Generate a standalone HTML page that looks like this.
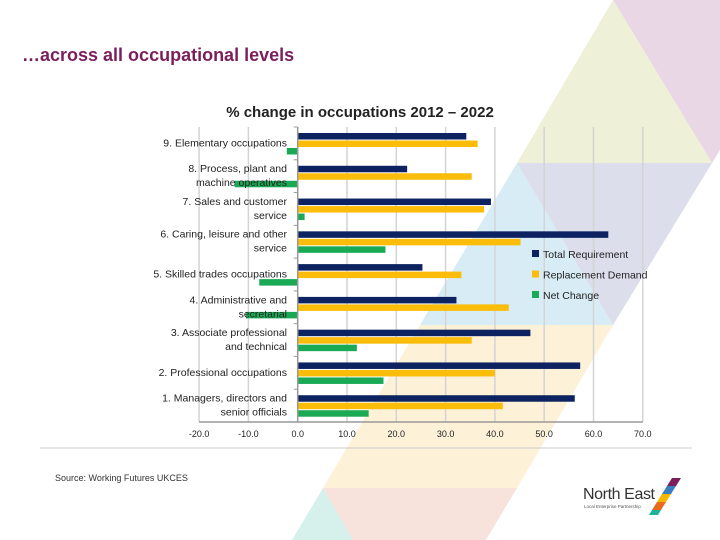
<!DOCTYPE html>
<html><head><meta charset="utf-8"><style>
body{margin:0;width:720px;height:540px;overflow:hidden;background:#fff;font-family:"Liberation Sans",sans-serif;}
svg{display:block}
</style></head><body>
<svg width="720" height="540">
<g>
<polygon points="613,0 720,0 720,150 712,163" fill="#ead7e6"/>
<polygon points="613,0 517,163 712,163" fill="#eef0d8"/>
<polygon points="517,163 712,163 613,325" fill="#dcdeeb"/>
<polygon points="517,163 420,325 613,325" fill="#d8ecf5"/>
<polygon points="420,325 613,325 517,488 323,488" fill="#fdf1d8"/>
<polygon points="323,488 517,488 486,540 353,540" fill="#f8e3dc"/>
<polygon points="323,488 353,540 292,540" fill="#d6f0ec"/>
</g>
<text x="22" y="61" font-size="18" font-weight="bold" fill="#7a1f5c">…across all occupational levels</text>
<text x="360" y="117" font-size="15" font-weight="bold" fill="#222" text-anchor="middle">% change in occupations 2012 – 2022</text>
<g id="chart"></g>
<line x1="40" y1="448" x2="692" y2="448" stroke="#ccc"/>
<text x="55" y="481" font-size="9" fill="#333">Source: Working Futures UKCES</text>
<g>
<text x="583" y="499" font-size="16" fill="#333" textLength="72">North East</text>
<text x="584" y="508" font-size="4.5" fill="#555">Local Enterprise Partnership</text>
<polygon points="672,478 681,478 676,486 667,486" fill="#7a1f5c"/>
<polygon points="667,486 676,486 671,494 662,494" fill="#3a7ec0"/>
<polygon points="662,494 671,494 666,502 657,502" fill="#f5b800"/>
<polygon points="657,502 666,502 661,510 652,510" fill="#e86a1e"/>
<polygon points="652,510 661,510 658,515 649,515" fill="#1fb39a"/>
</g>
</svg>
<script>
const categories=["9. Elementary occupations","8. Process, plant and|machine operatives","7. Sales and customer|service","6. Caring, leisure and other|service","5. Skilled trades occupations","4. Administrative and|secretarial","3. Associate professional|and technical","2. Professional occupations","1. Managers, directors and|senior officials"];
const totalReq=[34.2,22.2,39.2,63.0,25.3,32.2,47.2,57.3,56.2];
const replDemand=[36.5,35.3,37.8,45.2,33.2,42.8,35.3,40.0,41.6];
const netChange=[-2.2,-12.8,1.4,17.8,-7.8,-10.5,12.0,17.4,14.4];
const xTicks=[-20,-10,0,10,20,30,40,50,60,70];
const seriesNames=["Total Requirement","Replacement Demand","Net Change"];
const colors=["#0d2260","#fbbc0a","#1aaa55"];
const NS="http://www.w3.org/2000/svg";
const g=document.getElementById('chart');
const X=v=>297.7+v*4.93;
const top0=127,bottom0=422,band=(bottom0-top0)/categories.length;
function mk(t,a,p){const e=document.createElementNS(NS,t);for(const k in a)e.setAttribute(k,a[k]);(p||g).appendChild(e);return e;}
xTicks.forEach(t=>{
 if(t!==0){const l=mk('line',{x1:X(t),x2:X(t),y1:top0,y2:bottom0,stroke:'#d4d4d4','stroke-width':1.5});
 
 }
 const tx=mk('text',{x:X(t),y:437,'font-size':9,fill:'#222','text-anchor':'middle'});
 tx.textContent=t.toFixed(1);
 
 
});
const ax=mk('line',{x1:X(-20),x2:X(70),y1:bottom0,y2:bottom0,stroke:'#999','stroke-width':1.5});


const series=[totalReq,replDemand,netChange];
const offs=[6,13.5,21];
categories.forEach((c,i)=>{
 const y0=top0+i*band;
 series.forEach((s,k)=>{
  const v=s[i];
  const r=mk('rect',{x:Math.min(X(0),X(v)),y:y0+offs[k],width:Math.abs(X(v)-X(0)),height:6.5,fill:colors[k]});
  
  
 });
 const lines=c.split('|');
 const cy=y0+band/2;
 lines.forEach((ln,j)=>{
  const t=mk('text',{x:287,y:(lines.length===1?cy-1:cy-8+j*14)+4,'font-size':10.5,fill:'#222','text-anchor':'end'});
  t.textContent=ln;
  
  
 });
});
const yax=mk('line',{x1:X(0),x2:X(0),y1:top0,y2:bottom0,stroke:'#999','stroke-width':1.5});


for(let i=0;i<=categories.length;i++){
 const tk=mk('line',{x1:X(0)-4,x2:X(0),y1:top0+i*band,y2:top0+i*band,stroke:'#999'});
 
 
}
seriesNames.forEach((n,k)=>{
 const y=254+k*20.5;
 const m=mk('rect',{x:532,y:y-4,width:7,height:7,fill:colors[k]});
 
 
 const t=mk('text',{x:543,y:y+4,'font-size':10.5,fill:'#222'});
 t.textContent=n;
 
 
});
</script>
</body></html>
